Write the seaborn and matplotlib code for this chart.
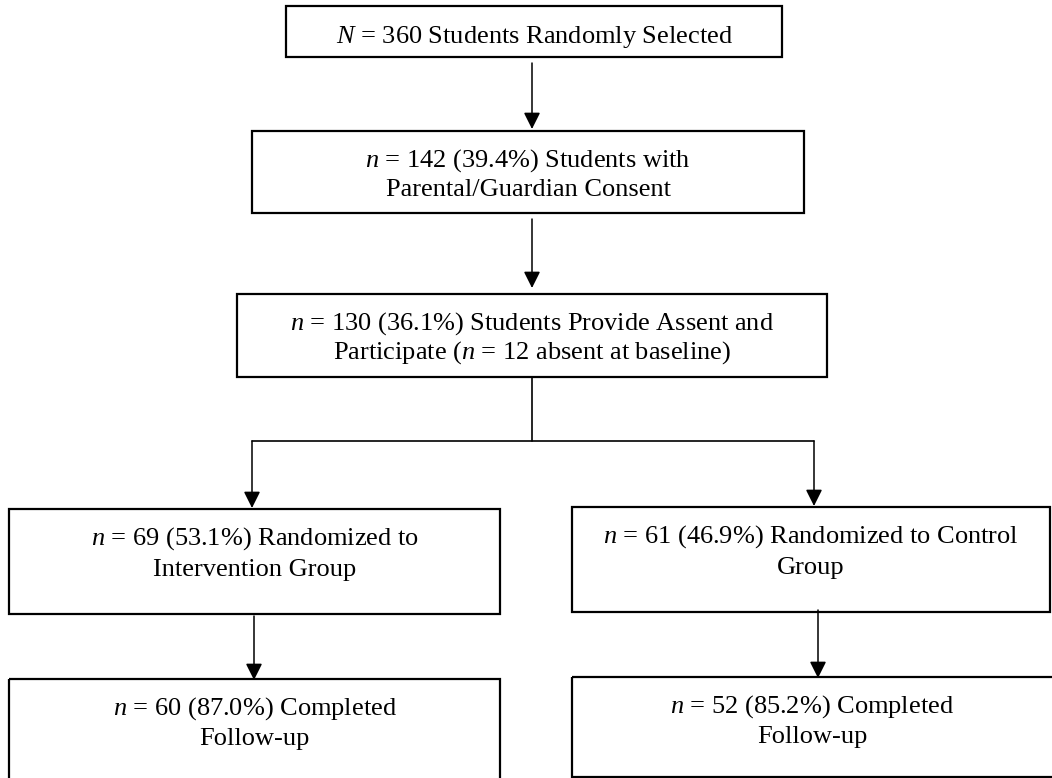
import matplotlib
matplotlib.use("Agg")
import matplotlib.pyplot as plt
import seaborn as sns
import pandas as pd
from matplotlib.patches import Rectangle

# ---------------- data ----------------
stage_symbols = ["N", "n", "n", "n", "n", "n", "n"]
stage_counts = [360, 142, 130, 69, 61, 60, 52]
stage_pcts = [None, "39.4%", "36.1%", "53.1%", "46.9%", "87.0%", "85.2%"]
stage_line1_tail = [
    "Students Randomly Selected",
    "Students with",
    "Students Provide Assent and",
    "Randomized to",
    "Randomized to Control",
    "Completed",
    "Completed",
]
stage_line2 = [
    None,
    "Parental/Guardian Consent",
    "Participate ($n$ = 12 absent at baseline)",
    "Intervention Group",
    "Group",
    "Follow-up",
    "Follow-up",
]

# ---------------- layout (pixels, origin top-left) ----------------
boxes = [  # x0, y0, x1, y1
    (286, 6, 782, 57),
    (252, 131, 804, 213),
    (237, 294, 827, 377),
    (9, 509, 500, 614),
    (572, 507, 1050, 612),
    (9, 679, 500, 790),
    (572, 677, 1060, 777),
]
baselines = [
    (43, None),
    (167, 196),
    (330, 359),
    (545, 576),
    (543, 574),
    (715, 745),
    (713, 743),
]
text_cx = [534, 528, 532, 254.5, 811, 254.5, 812]
arrows = [  # x, y_start, y_end
    (532, 63, 129),
    (532, 219, 288),
    (252, 441, 508),
    (814, 441, 506),
    (254, 616, 680),
    (818, 610, 678),
]
connectors = pd.DataFrame({
    "x": [532, 532, 252, 814],
    "y": [377, 441, 441, 441],
    "seg": ["a", "a", "b", "b"],
})

sns.set_theme(style="white")
plt.rcParams["font.family"] = ["Liberation Serif", "DejaVu Serif"]
plt.rcParams["mathtext.fontset"] = "custom"
plt.rcParams["mathtext.rm"] = "Liberation Serif"
plt.rcParams["mathtext.it"] = "Liberation Serif:italic"

fig = plt.figure(figsize=(10.52, 7.78), dpi=100)
ax = fig.add_axes([0, 0, 1, 1])

FS = 19
for i, (x0, y0, x1, y1) in enumerate(boxes):
    ax.add_patch(Rectangle((x0, y0), x1 - x0, y1 - y0, fill=False,
                           edgecolor="black", lw=1.6, zorder=2))
    cx = text_cx[i]
    sym = stage_symbols[i]
    pct = f" ({stage_pcts[i]})" if stage_pcts[i] else ""
    line1 = f"${sym}$ = {stage_counts[i]}{pct} {stage_line1_tail[i]}"
    b1, b2 = baselines[i]
    ax.text(cx, b1, line1, ha="center", va="baseline", fontsize=FS, color="black")
    if stage_line2[i]:
        ax.text(cx, b2, stage_line2[i], ha="center", va="baseline", fontsize=FS,
                color="black")

sns.lineplot(data=connectors, x="x", y="y", units="seg", estimator=None,
             sort=False, color="black", lw=1.2, ax=ax, legend=False)

for x, ys, ye in arrows:
    ax.annotate("", xy=(x, ye), xytext=(x, ys),
                arrowprops=dict(arrowstyle="-|>,head_length=1.0,head_width=0.5",
                                mutation_scale=10, color="black", lw=1.1,
                                shrinkA=0, shrinkB=0))

ax.set_xlim(0, 1052)
ax.set_ylim(778, 0)
ax.axis("off")
fig.savefig("out.png", dpi=100, facecolor="white")
